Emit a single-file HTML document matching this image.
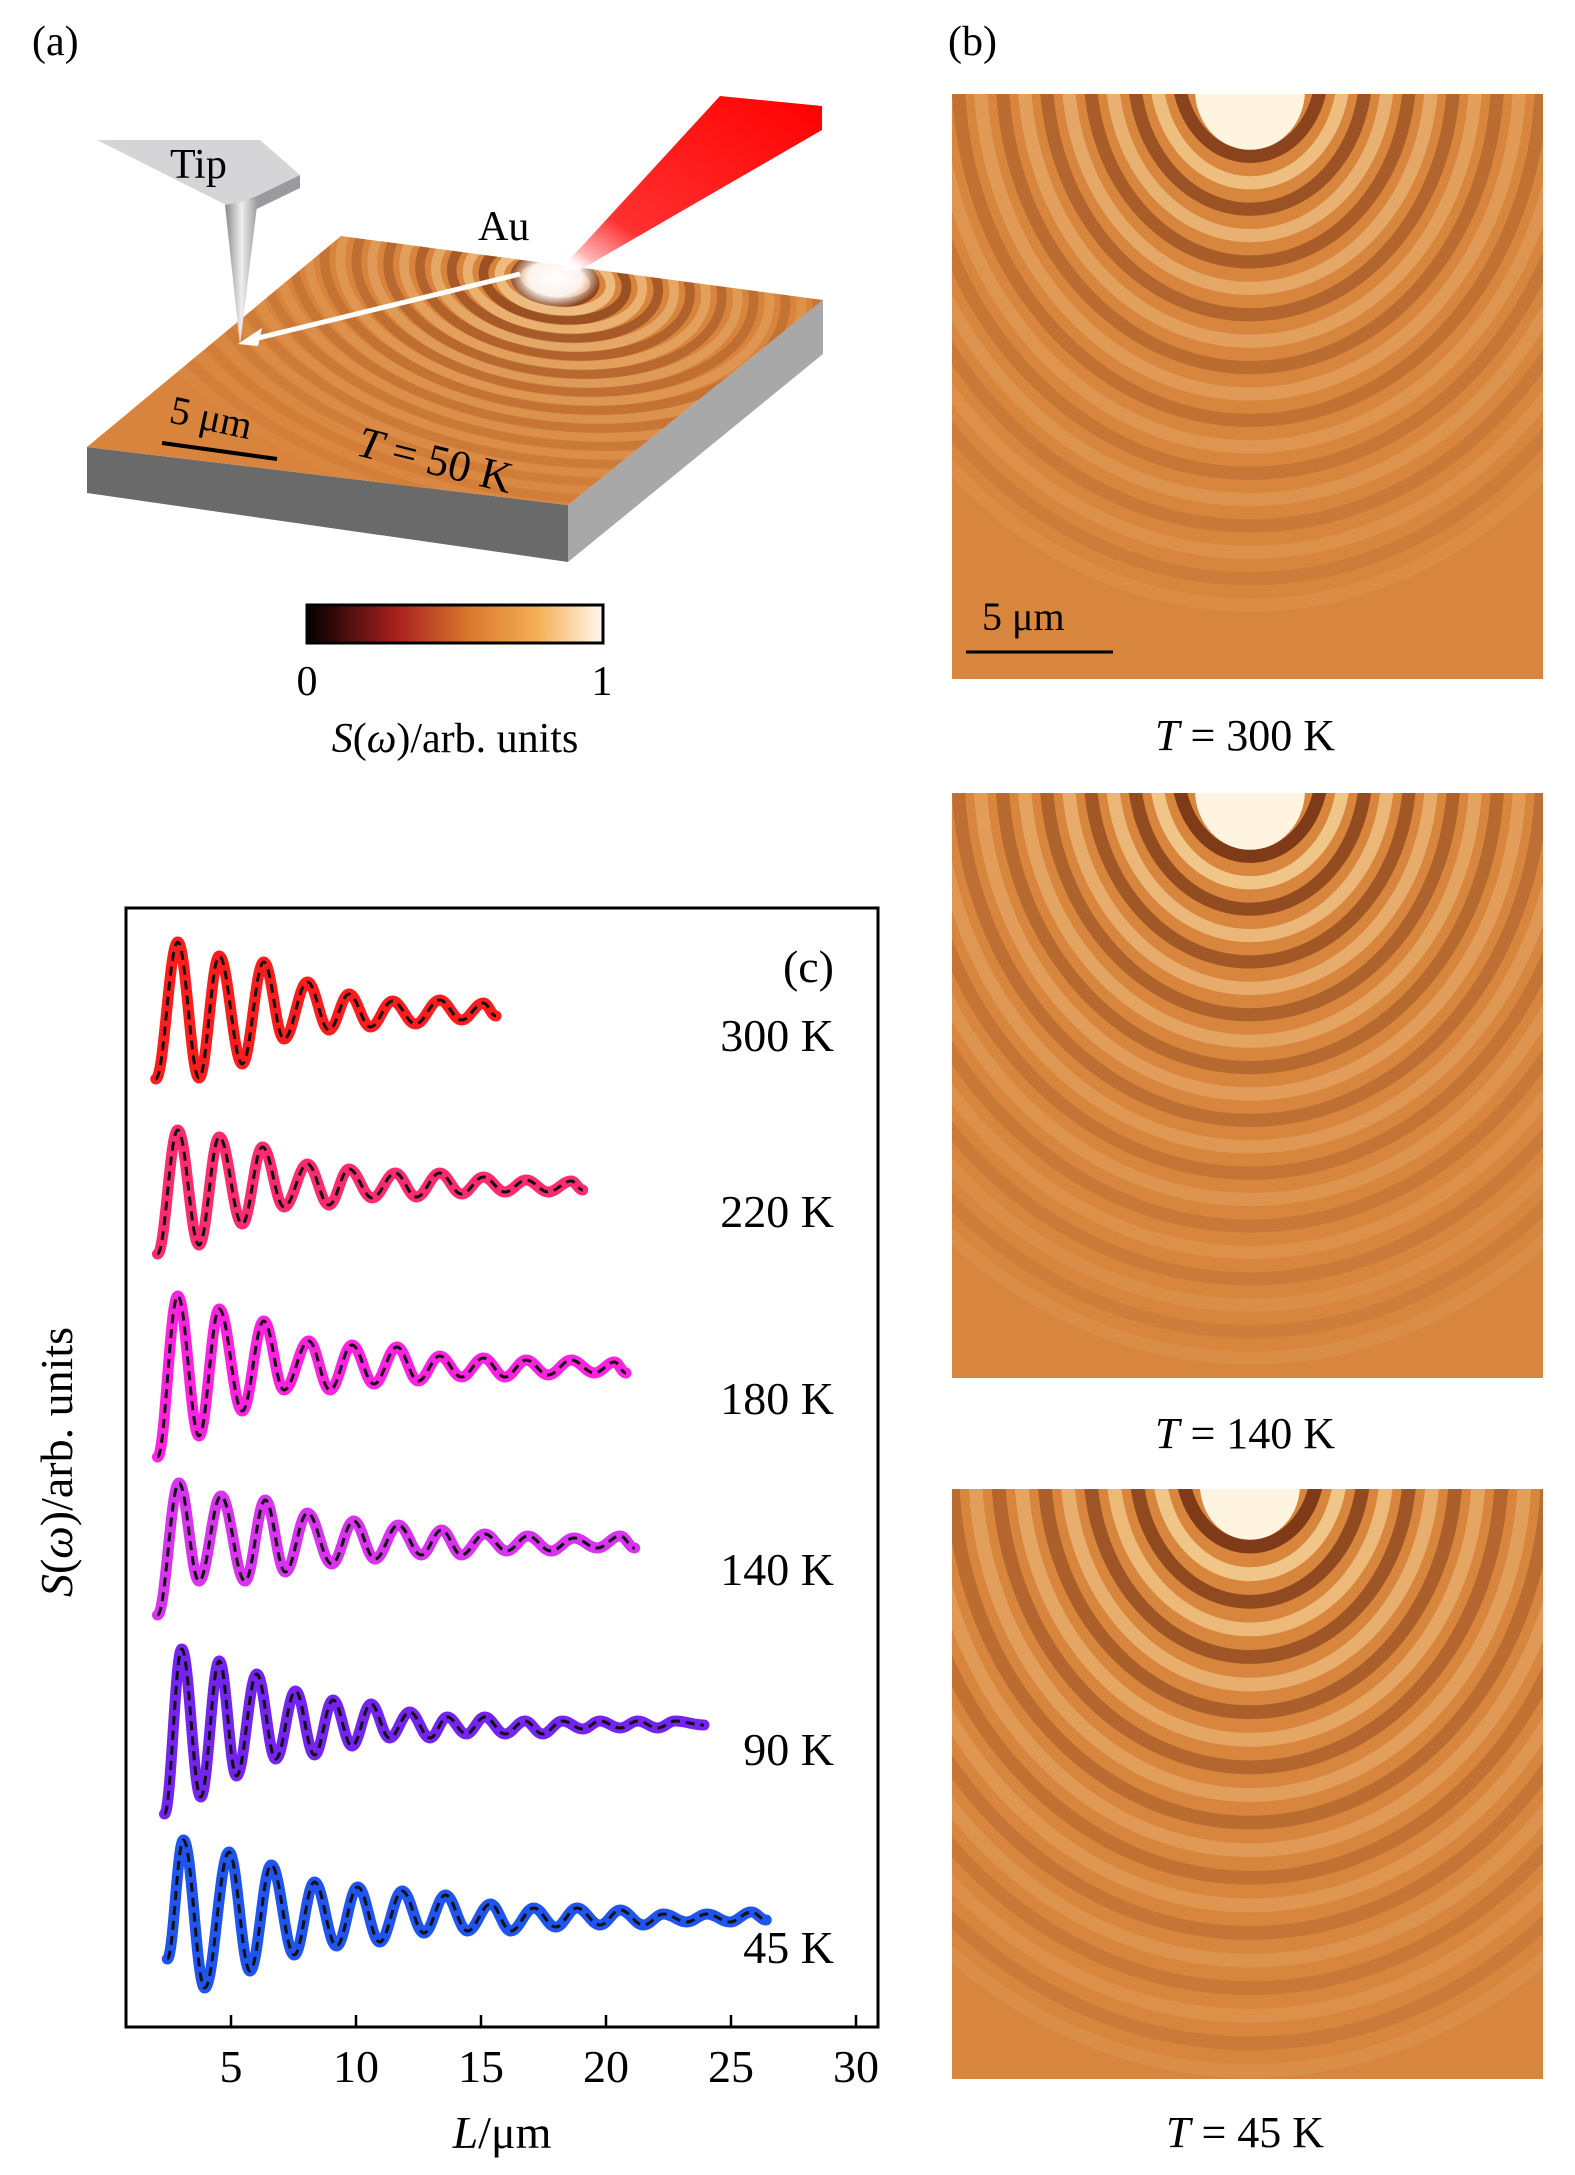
<!DOCTYPE html>
<html><head><meta charset="utf-8">
<style>
html,body{margin:0;padding:0;background:#fff;}
body{width:1575px;height:2175px;position:relative;overflow:hidden;font-family:"Liberation Serif",serif;}
svg{position:absolute;left:0;top:0;}
text{font-family:"Liberation Serif",serif;fill:#000;}
</style></head>
<body>
<svg id="fig" width="1575" height="2175" viewBox="0 0 1575 2175">
<defs>
  <linearGradient id="cbar" x1="0" x2="1" y1="0" y2="0">
    <stop offset="0" stop-color="#000"/>
    <stop offset="0.3" stop-color="#a8201e"/>
    <stop offset="0.55" stop-color="#d9782e"/>
    <stop offset="0.78" stop-color="#f5b055"/>
    <stop offset="1" stop-color="#fff8ee"/>
  </linearGradient>
  <linearGradient id="beam" x1="0" y1="1" x2="1" y2="0">
    <stop offset="0" stop-color="#ffffff"/>
    <stop offset="0.25" stop-color="#ff3030"/>
    <stop offset="1" stop-color="#ff0000"/>
  </linearGradient>
  <linearGradient id="tipg" x1="0" x2="1">
    <stop offset="0" stop-color="#888"/><stop offset="0.5" stop-color="#eee"/><stop offset="1" stop-color="#999"/>
  </linearGradient>
  <radialGradient id="glow"><stop offset="0" stop-color="#fff"/><stop offset="0.6" stop-color="#fff" stop-opacity="0.9"/><stop offset="1" stop-color="#fff" stop-opacity="0"/></radialGradient>
  <clipPath id="topface"><polygon points="87,447 341,236 823,300 568,505"/></clipPath>
  <clipPath id="img1c"><rect x="952" y="94" width="591" height="585"/></clipPath>
  <clipPath id="img2c"><rect x="952" y="793" width="591" height="585"/></clipPath>
  <clipPath id="img3c"><rect x="952" y="1489" width="591" height="590"/></clipPath>
</defs>

<text x="32" y="55" font-size="42">(a)</text>
<g>
  <polygon points="87,447 568,505 568,562 87,493" fill="#6a6a6a"/>
  <polygon points="568,505 823,300 823,354 568,562" fill="#a8a8a8"/>
  <polygon points="87,447 341,236 823,300 568,505" fill="#d8843c"/>
  <g id="slabRings" clip-path="url(#topface)"></g>
</g>
<g>
  <polygon points="97,140 260,140 300,175 232,208" fill="#d5d5d8"/>
  <polygon points="232,208 300,175 300,188 238,218" fill="#9a9a9e"/>
  <polygon points="225,205 258,198 240,345" fill="url(#tipg)"/>
  <text x="170" y="178" font-size="42">Tip</text>
</g>
<polygon points="560,270 720,96 822,106 822,130 580,270" fill="url(#beam)"/>
<ellipse cx="555" cy="278" rx="45" ry="30" fill="url(#glow)"/>
<text x="478" y="240" font-size="42">Au</text>
<line x1="520" y1="274" x2="250" y2="340" stroke="#fff" stroke-width="5"/>
<polygon points="238,344 262,328 258,346" fill="#fff"/>
<text x="168" y="422" font-size="40" transform="rotate(12 168 422)">5 μm</text>
<line x1="162" y1="443" x2="277" y2="459" stroke="#000" stroke-width="4"/>
<text x="355" y="455" font-size="44" transform="rotate(14 355 455)"><tspan font-style="italic">T</tspan> = 50 K</text>

<rect x="307" y="605" width="296" height="38" fill="url(#cbar)" stroke="#000" stroke-width="3"/>
<text x="307" y="695" font-size="42" text-anchor="middle">0</text>
<text x="602" y="695" font-size="42" text-anchor="middle">1</text>
<text x="455" y="752" font-size="42" text-anchor="middle"><tspan font-style="italic">S</tspan>(<tspan font-style="italic">ω</tspan>)/arb. units</text>

<text x="948" y="55" font-size="42">(b)</text>
<g>
  <rect x="952" y="94" width="591" height="585" fill="#d8863e"/>
  <g id="rings1" clip-path="url(#img1c)"></g>
  <text x="982" y="630" font-size="40">5 μm</text>
  <line x1="966" y1="652" x2="1113" y2="652" stroke="#000" stroke-width="3"/>
</g>
<text x="1245" y="750" font-size="44" text-anchor="middle"><tspan font-style="italic">T</tspan> = 300 K</text>
<g>
  <rect x="952" y="793" width="591" height="585" fill="#d8863e"/>
  <g id="rings2" clip-path="url(#img2c)"></g>
</g>
<text x="1245" y="1448" font-size="44" text-anchor="middle"><tspan font-style="italic">T</tspan> = 140 K</text>
<g>
  <rect x="952" y="1489" width="591" height="590" fill="#d8863e"/>
  <g id="rings3" clip-path="url(#img3c)"></g>
</g>
<text x="1245" y="2147" font-size="44" text-anchor="middle"><tspan font-style="italic">T</tspan> = 45 K</text>

<g id="chart">
  <rect x="126" y="908" width="752" height="1119" fill="none" stroke="#000" stroke-width="3"/>
  <g id="ticks"></g>
  <g id="series"></g>
  <text x="834" y="982" font-size="46" text-anchor="end">(c)</text>
  <text x="502" y="2148" font-size="46" text-anchor="middle"><tspan font-style="italic">L</tspan>/μm</text>
  <text x="0" y="0" font-size="46" text-anchor="middle" transform="translate(72 1462) rotate(-90)"><tspan font-style="italic">S</tspan>(<tspan font-style="italic">ω</tspan>)/arb. units</text>
</g>
</svg>
<script>
const xTicks = [5, 10, 15, 20, 25, 30];
const seriesNames = ["300 K", "220 K", "180 K", "140 K", "90 K", "45 K"];
const seriesColors = ["#ff1c1c", "#ff2a70", "#ff22e0", "#d833ee", "#7424ee", "#1f55ee"];
const labelValues = [9.76, 8.0, 6.13, 4.42, 2.62, 0.64];
const x300 = [1.99,2.87,3.72,4.53,5.45,6.31,7.12,8.06,8.92,9.72,10.58,11.46,12.38,13.35,14.22,15.1,15.6];
const y300 = [9.48,10.85,9.49,10.71,9.63,10.65,9.88,10.45,9.97,10.33,10.0,10.26,10.03,10.27,10.07,10.24,10.11];
const x220 = [2.06,2.87,3.72,4.53,5.45,6.26,7.12,8.06,8.92,9.72,10.65,11.57,12.42,13.35,14.22,15.1,15.96,16.81,17.69,18.61,19.07];
const y220 = [7.73,8.97,7.82,8.9,8.03,8.8,8.2,8.63,8.22,8.58,8.29,8.54,8.3,8.54,8.33,8.5,8.35,8.47,8.35,8.46,8.37];
const x180 = [2.06,2.87,3.72,4.53,5.45,6.31,7.12,8.11,8.96,9.84,10.72,11.64,12.49,13.35,14.22,15.1,15.96,16.81,17.69,18.61,19.54,20.34,20.8];
const y180 = [5.7,7.31,5.91,7.18,6.16,7.06,6.37,6.86,6.37,6.82,6.43,6.8,6.46,6.71,6.5,6.69,6.5,6.67,6.52,6.67,6.54,6.65,6.54];
const x140 = [2.06,2.92,3.72,4.6,5.56,6.37,7.17,8.06,9.03,9.91,10.76,11.69,12.61,13.42,14.22,15.15,16.03,16.88,17.8,18.72,19.65,20.57,21.15];
const y140 = [4.12,5.44,4.46,5.31,4.46,5.27,4.55,5.14,4.63,5.06,4.68,5.02,4.72,4.97,4.72,4.93,4.76,4.91,4.76,4.89,4.79,4.91,4.79];
const x90 = [2.34,3.03,3.79,4.53,5.22,6.03,6.79,7.58,8.34,9.08,9.84,10.6,11.34,12.15,12.96,13.65,14.41,15.15,15.96,16.76,17.46,18.26,19.07,19.76,20.57,21.27,22.07,22.76,23.92];
const y90 = [2.13,3.78,2.3,3.66,2.51,3.53,2.68,3.36,2.72,3.27,2.81,3.23,2.89,3.15,2.89,3.1,2.93,3.1,2.93,3.06,2.93,3.06,2.98,3.06,2.99,3.06,2.99,3.06,3.02];
const x45 = [2.45,3.1,3.95,4.92,5.76,6.61,7.53,8.34,9.22,10.07,10.95,11.85,12.72,13.58,14.46,15.38,16.19,17.11,17.99,18.84,19.76,20.57,21.5,22.3,23.23,24.04,24.96,25.81,26.41];
const y45 = [0.68,1.87,0.39,1.75,0.56,1.62,0.72,1.45,0.81,1.4,0.85,1.36,0.94,1.32,0.96,1.23,0.96,1.19,1.0,1.19,1.02,1.17,1.02,1.13,1.05,1.13,1.05,1.15,1.07];

const seriesX = [x300, x220, x180, x140, x90, x45];
const seriesY = [y300, y220, y180, y140, y90, y45];

const NS = "http://www.w3.org/2000/svg";
const xScale = v => 106 + v * 25;
const yScale = u => 2027 - u * 100;

const tg = document.getElementById('ticks');
xTicks.forEach(t => {
  const l = document.createElementNS(NS, 'line');
  l.setAttribute('x1', xScale(t)); l.setAttribute('x2', xScale(t));
  l.setAttribute('y1', 2027); l.setAttribute('y2', 2015);
  l.setAttribute('stroke', '#000'); l.setAttribute('stroke-width', 2.5);
  
  
  tg.appendChild(l);
  const tx = document.createElementNS(NS, 'text');
  tx.setAttribute('x', xScale(t)); tx.setAttribute('y', 2082);
  tx.setAttribute('font-size', 46); tx.setAttribute('text-anchor', 'middle');
  tx.textContent = t;
  
  
  tg.appendChild(tx);
});

function pathFor(xs, ys) {
  let d = 'M' + xScale(xs[0]) + ',' + yScale(ys[0]);
  for (let i = 1; i < xs.length; i++) {
    const x0 = xScale(xs[i-1]), x1 = xScale(xs[i]);
    const y0 = yScale(ys[i-1]), y1 = yScale(ys[i]);
    const dx = (x1 - x0) / 2.6;
    d += ' C' + (x0 + dx) + ',' + y0 + ' ' + (x1 - dx) + ',' + y1 + ' ' + x1 + ',' + y1;
  }
  return d;
}
const sg = document.getElementById('series');
seriesX.forEach((xs, i) => {
  const d = pathFor(xs, seriesY[i]);
  const p = document.createElementNS(NS, 'path');
  p.setAttribute('d', d); p.setAttribute('fill', 'none');
  p.setAttribute('stroke', seriesColors[i]); p.setAttribute('stroke-width', 11);
  p.setAttribute('stroke-linejoin', 'round'); p.setAttribute('stroke-linecap', 'round');
  
  
  sg.appendChild(p);
  const f = document.createElementNS(NS, 'path');
  f.setAttribute('d', d); f.setAttribute('fill', 'none');
  f.setAttribute('stroke', '#111'); f.setAttribute('stroke-width', 3);
  f.setAttribute('stroke-dasharray', '9 6');
  
  
  sg.appendChild(f);
  const t = document.createElementNS(NS, 'text');
  t.setAttribute('x', 834); t.setAttribute('y', yScale(labelValues[i]));
  t.setAttribute('font-size', 46); t.setAttribute('text-anchor', 'end');
  t.textContent = seriesNames[i];
  
  
  sg.appendChild(t);
});

function rings(gid, cx, cy, r0, step, n, ky, strength, decay, rot) {
  const g = document.getElementById(gid);
  for (let i = 0; i < n; i++) {
    const rx = r0 + i * step;
    const a = strength * Math.pow(decay, i);
    [['#5a1a08', 0], ['#fbe0a8', step / 2]].forEach(([c, off]) => {
      const e = document.createElementNS(NS, 'ellipse');
      e.setAttribute('cx', cx); e.setAttribute('cy', cy);
      e.setAttribute('rx', rx + off); e.setAttribute('ry', (rx + off) * ky);
      e.setAttribute('fill', 'none'); e.setAttribute('stroke', c);
      e.setAttribute('stroke-width', step * 0.3);
      e.setAttribute('opacity', a.toFixed(3));
      if (rot) e.setAttribute('transform', 'rotate(' + rot + ' ' + cx + ' ' + cy + ')');
      
      
      g.appendChild(e);
    });
  }
}
function core(gid, cx, cy, rx, ry) {
  const e = document.createElementNS(NS, 'ellipse');
  e.setAttribute('cx', cx); e.setAttribute('cy', cy); e.setAttribute('rx', rx); e.setAttribute('ry', ry);
  e.setAttribute('fill', '#fff4e0');
  
  
  document.getElementById(gid).appendChild(e);
}
core('rings1', 1250, 90, 55, 60);
rings('rings1', 1250, 70, 72, 44, 9, 1.2, 0.62, 0.78, 0);
core('rings2', 1250, 790, 55, 60);
rings('rings2', 1250, 770, 72, 44, 10, 1.2, 0.7, 0.78, 0);
core('rings3', 1250, 1485, 50, 55);
rings('rings3', 1250, 1465, 68, 46, 10, 1.2, 0.7, 0.8, 0);
rings('slabRings', 555, 280, 40, 32, 13, 0.55, 0.6, 0.8, 8);
</script>
</body></html>
